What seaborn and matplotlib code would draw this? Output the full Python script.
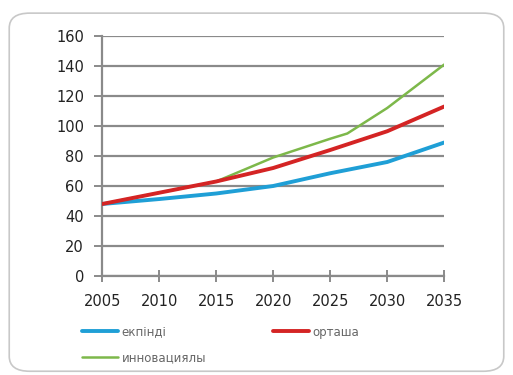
import matplotlib
matplotlib.use('Agg')
import matplotlib.pyplot as plt
import seaborn as sns
import pandas as pd
from matplotlib.patches import FancyBboxPatch

# data
years_slow = [2005, 2010, 2015, 2020, 2025, 2030, 2035]
slow = [48, 51.3, 55, 60, 68.5, 76, 89]
years_mid = [2005, 2010, 2015, 2020, 2025, 2030, 2035]
mid = [48, 55.5, 63, 72, 84, 96.5, 113]
years_inno = [2005, 2010, 2015, 2020, 2025, 2026.5, 2030, 2035]
inno = [48, 55.5, 63, 79, 91.5, 95, 112, 141]

names = ['екпінді', 'орташа', 'инновациялы']
colors = ['#1f9fd6', '#d42424', '#7db84a']
widths = [2.8, 2.8, 1.8]
layers = [3, 5, 4]  # red drawn over green and blue
x_ticks = [2005, 2010, 2015, 2020, 2025, 2030, 2035]
y_ticks = [0, 20, 40, 60, 80, 100, 120, 140, 160]

sns.set_theme(style="white")
plt.rcParams['font.family'] = ['DejaVu Sans']

df = pd.concat([
    pd.DataFrame({'year': years_slow, 'value': slow, 'scenario': names[0]}),
    pd.DataFrame({'year': years_mid, 'value': mid, 'scenario': names[1]}),
    pd.DataFrame({'year': years_inno, 'value': inno, 'scenario': names[2]}),
])

fig = plt.figure(figsize=(5.13, 3.75), dpi=100)
fig.patch.set_facecolor('white')

# rounded frame around the whole chart, kept behind the axes
frame = FancyBboxPatch((0.018, 0.01), 0.964, 0.955, boxstyle="round,pad=0,rounding_size=0.04",
                       transform=fig.transFigure, facecolor='none', edgecolor='#c8c8c8',
                       linewidth=1.2, zorder=-10)
fig.patches.append(frame)

ax = fig.add_axes([0.199, 0.264, 0.667, 0.64])
ax.set_facecolor('none')
ax.set_zorder(5)

for i, name in enumerate(names):
    sub = df[df['scenario'] == name]
    sns.lineplot(data=sub, x='year', y='value', ax=ax, color=colors[i], linewidth=widths[i],
                 label=name, zorder=layers[i])

ax.set_xlim(2005, 2035)
ax.set_ylim(0, 160)
ax.set_xticks(x_ticks)
ax.set_yticks(y_ticks)
ax.yaxis.grid(True, color='#8a8a8a', linewidth=1.6)
ax.set_axisbelow(True)
ax.set_xlabel('')
ax.set_ylabel('')
for side in ['top', 'right']:
    ax.spines[side].set_visible(False)
for side in ['left', 'bottom']:
    ax.spines[side].set_color('#8a8a8a')
    ax.spines[side].set_linewidth(1.6)
ax.tick_params(axis='y', left=True, length=6, width=1.4, color='#8a8a8a',
               labelsize=10.5, labelcolor='#222222', pad=7)
ax.tick_params(axis='x', bottom=True, direction='inout', length=8, width=1.4, color='#8a8a8a',
               labelsize=10.5, labelcolor='#222222', pad=9)

# legend: blue and red on the first row, green under blue
h, l = ax.get_legend_handles_labels()
order = [0, 2, 1]
ax.legend([h[i] for i in order], [l[i] for i in order], ncol=2, frameon=False,
          loc='upper left', bbox_to_anchor=(0.14, 0.16), bbox_transform=fig.transFigure,
          fontsize=8.5, labelcolor='#666666', handlelength=3.0, handletextpad=0.3,
          columnspacing=5.7, labelspacing=1.05)

fig.savefig('out.png', dpi=100)
